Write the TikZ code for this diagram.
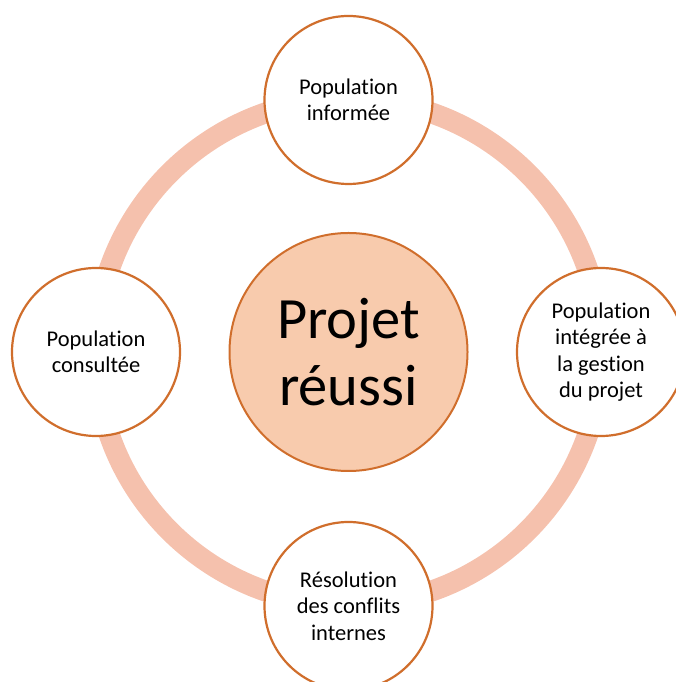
\documentclass[tikz,border=0pt]{standalone}
\usepackage{fontspec}
\setmainfont[Ligatures={NoCommon,NoContextual}]{Carlito}
\definecolor{ringc}{HTML}{F5C1AD}
\definecolor{edgec}{HTML}{D06E2C}
\definecolor{hubfill}{HTML}{F8CBAD}
\begin{document}
\begin{tikzpicture}[x=1pt,y=1pt,
  sat/.style={circle,draw=edgec,line width=2.2pt,fill=white,minimum size=168pt,inner sep=0pt,align=center,font=\fontsize{22.5}{26.3}\selectfont},
  hub/.style={circle,draw=edgec,line width=2pt,fill=hubfill,minimum size=238pt,inner sep=0pt,align=center,font=\fontsize{58.5}{67.5}\selectfont}]
\useasboundingbox (0,0) rectangle (675,682);
\coordinate (c) at (348.5,330);
\draw[ringc,line width=21pt] (c) circle[radius=253];
\node[hub] (hub) at (c) {Projet\\réussi};
\node[sat] (top) at (348.5,582) {Population\\informée};
\node[sat] (right) at (601,330) {Population\\intégrée à\\la gestion\\du projet};
\node[sat] (left) at (96,330) {Population\\consultée};
\node[sat] (bottom) at (348.5,76) {Résolution\\des conflits\\internes};
\end{tikzpicture}
\end{document}
